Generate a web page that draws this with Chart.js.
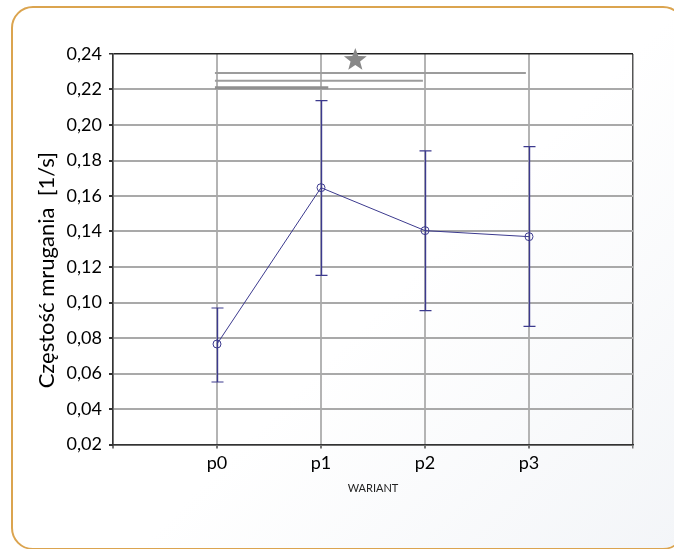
<!DOCTYPE html>
<html><head><meta charset="utf-8">
<script src="https://cdn.jsdelivr.net/npm/chart.js@4.4.1/dist/chart.umd.min.js"></script>
<style>
html,body{margin:0;padding:0;background:#fff;overflow:hidden;width:674px;height:549px;}
#frame{position:absolute;left:11px;top:6px;width:674px;height:544px;border:2px solid #dba44f;border-radius:22px;background:linear-gradient(135deg,#ffffff 55%,#f3f5f8 100%);box-sizing:border-box;}
#wrap{position:absolute;left:0;top:0;width:674px;height:549px;}
</style></head><body>
<div id="frame"></div>
<div id="wrap"><canvas id="c" width="674" height="549"></canvas></div>
<script>
// ---- data ----
const categories = ['p0', 'p1', 'p2', 'p3'];
const categoryPositions = [1, 2, 3, 4];
const meanValues = [0.0766, 0.1647, 0.1405, 0.1371];
const upperValues = [0.0969, 0.2137, 0.1854, 0.1878];
const lowerValues = [0.0552, 0.1153, 0.0954, 0.0866];
const yTickValues = [0.02, 0.04, 0.06, 0.08, 0.10, 0.12, 0.14, 0.16, 0.18, 0.20, 0.22, 0.24];
const sigLevels = [0.2293, 0.2250, 0.2210];
const sigFrom = [0.98, 0.98, 0.98];
const sigTo = [3.97, 2.98, 2.07];
const starX = 2.33;
const starY = 0.2372;
const yTitle = 'Częstość mrugania  [1/s]';
const xTitle = 'WARIANT';

const navy = '#3c3a8e';

const mainData = categoryPositions.map((x, i) => ({ x: x, y: meanValues[i] }));
const sigDatasets = sigLevels.map((lv, i) => ({
  data: [{ x: sigFrom[i], y: lv }, { x: sigTo[i], y: lv }],
  showLine: true,
  borderColor: i === 2 ? '#8f8f8f' : '#9c9c9c',
  borderWidth: i === 2 ? 3 : 2,
  pointRadius: 0,
  pointHoverRadius: 0
}));

const extras = {
  id: 'extras',
  afterDatasetsDraw(chart) {
    const { ctx, scales: { x, y }, chartArea } = chart;
    ctx.save();
    ctx.strokeStyle = navy;
    categoryPositions.forEach((cx, i) => {
      const px = Math.round(x.getPixelForValue(cx)) + 0.5;
      const pu = y.getPixelForValue(upperValues[i]);
      const pl = y.getPixelForValue(lowerValues[i]);
      ctx.lineWidth = 1.4;
      ctx.beginPath();
      ctx.moveTo(px, pu);
      ctx.lineTo(px, pl);
      ctx.stroke();
      ctx.lineWidth = 1.2;
      ctx.beginPath();
      ctx.moveTo(px - 6, pu); ctx.lineTo(px + 6, pu);
      ctx.moveTo(px - 6, pl); ctx.lineTo(px + 6, pl);
      ctx.stroke();
    });
    // star
    const sx = x.getPixelForValue(starX), sy = y.getPixelForValue(starY);
    const R = 12, r = 5;
    ctx.fillStyle = '#888888';
    ctx.beginPath();
    for (let k = 0; k < 10; k++) {
      const ang = -Math.PI / 2 + k * Math.PI / 5;
      const rad = k % 2 === 0 ? R : r;
      const X = sx + rad * Math.cos(ang), Y = sy + rad * Math.sin(ang) + 1;
      if (k === 0) ctx.moveTo(X, Y); else ctx.lineTo(X, Y);
    }
    ctx.closePath();
    ctx.fill();
    // y axis title
    ctx.translate(47, (chartArea.top + chartArea.bottom) / 2 + 21);
    ctx.rotate(-Math.PI / 2);
    ctx.fillStyle = '#000';
    ctx.font = '22px Lato';
    ctx.textAlign = 'center';
    ctx.textBaseline = 'middle';
    ctx.fillText(yTitle, 0, 0);
    ctx.restore();
  }
};

new Chart(document.getElementById('c'), {
  type: 'scatter',
  data: {
    datasets: [
      ...sigDatasets,
      {
        data: mainData,
        showLine: true,
        borderColor: navy,
        borderWidth: 1,
        pointRadius: 4,
        pointBorderWidth: 1,
        pointBackgroundColor: 'rgba(0,0,0,0)',
        pointBorderColor: navy,
        tension: 0
      }
    ]
  },
  options: {
    responsive: false,
    animation: false,
    devicePixelRatio: 1,
    layout: { padding: { left: 0, top: 54, right: 41, bottom: 54 } },
    plugins: { legend: { display: false }, tooltip: { enabled: false } },
    scales: {
      x: {
        type: 'linear',
        min: 0, max: 5,
        afterFit(s) { s.height = 50.5; },
        ticks: {
          stepSize: 1,
          autoSkip: false,
          maxRotation: 0,
          padding: 4,
          color: '#000',
          font: { family: 'Lato', size: 18 },
          callback: v => { const i = categoryPositions.indexOf(v); return i >= 0 ? categories[i] : ''; }
        },
        grid: {
          color: c => (c.tick && c.tick.value === 5) ? '#555555' : '#b4b4b4',
          lineWidth: c => (c.tick && c.tick.value === 5) ? 1.5 : 2,
          tickLength: 4,
          tickColor: '#777'
        },
        border: { color: '#333', width: 1.5 },
        title: {
          display: true, text: xTitle, color: '#222',
          font: { family: 'Lato', size: 11 }, padding: { top: 0, bottom: 0 }
        }
      },
      y: {
        min: 0.02, max: 0.24,
        afterFit(s) { s.width = 113; },
        afterBuildTicks(s) { s.ticks = yTickValues.map(v => ({ value: v })); },
        ticks: {
          padding: 7,
          color: '#000',
          font: { family: 'Lato', size: 18 },
          callback: v => Number(v).toFixed(2).replace('.', ',')
        },
        grid: {
          color: c => (c.tick && Math.abs(c.tick.value - 0.24) < 1e-6) ? '#222222' : '#a9a9a9',
          lineWidth: c => (c.tick && Math.abs(c.tick.value - 0.24) < 1e-6) ? 1.5 : 2,
          tickLength: 4,
          tickColor: '#333'
        },
        border: { color: '#333', width: 1.5 },
        title: { display: false }
      }
    }
  },
  plugins: [extras]
});
</script>
</body></html>
